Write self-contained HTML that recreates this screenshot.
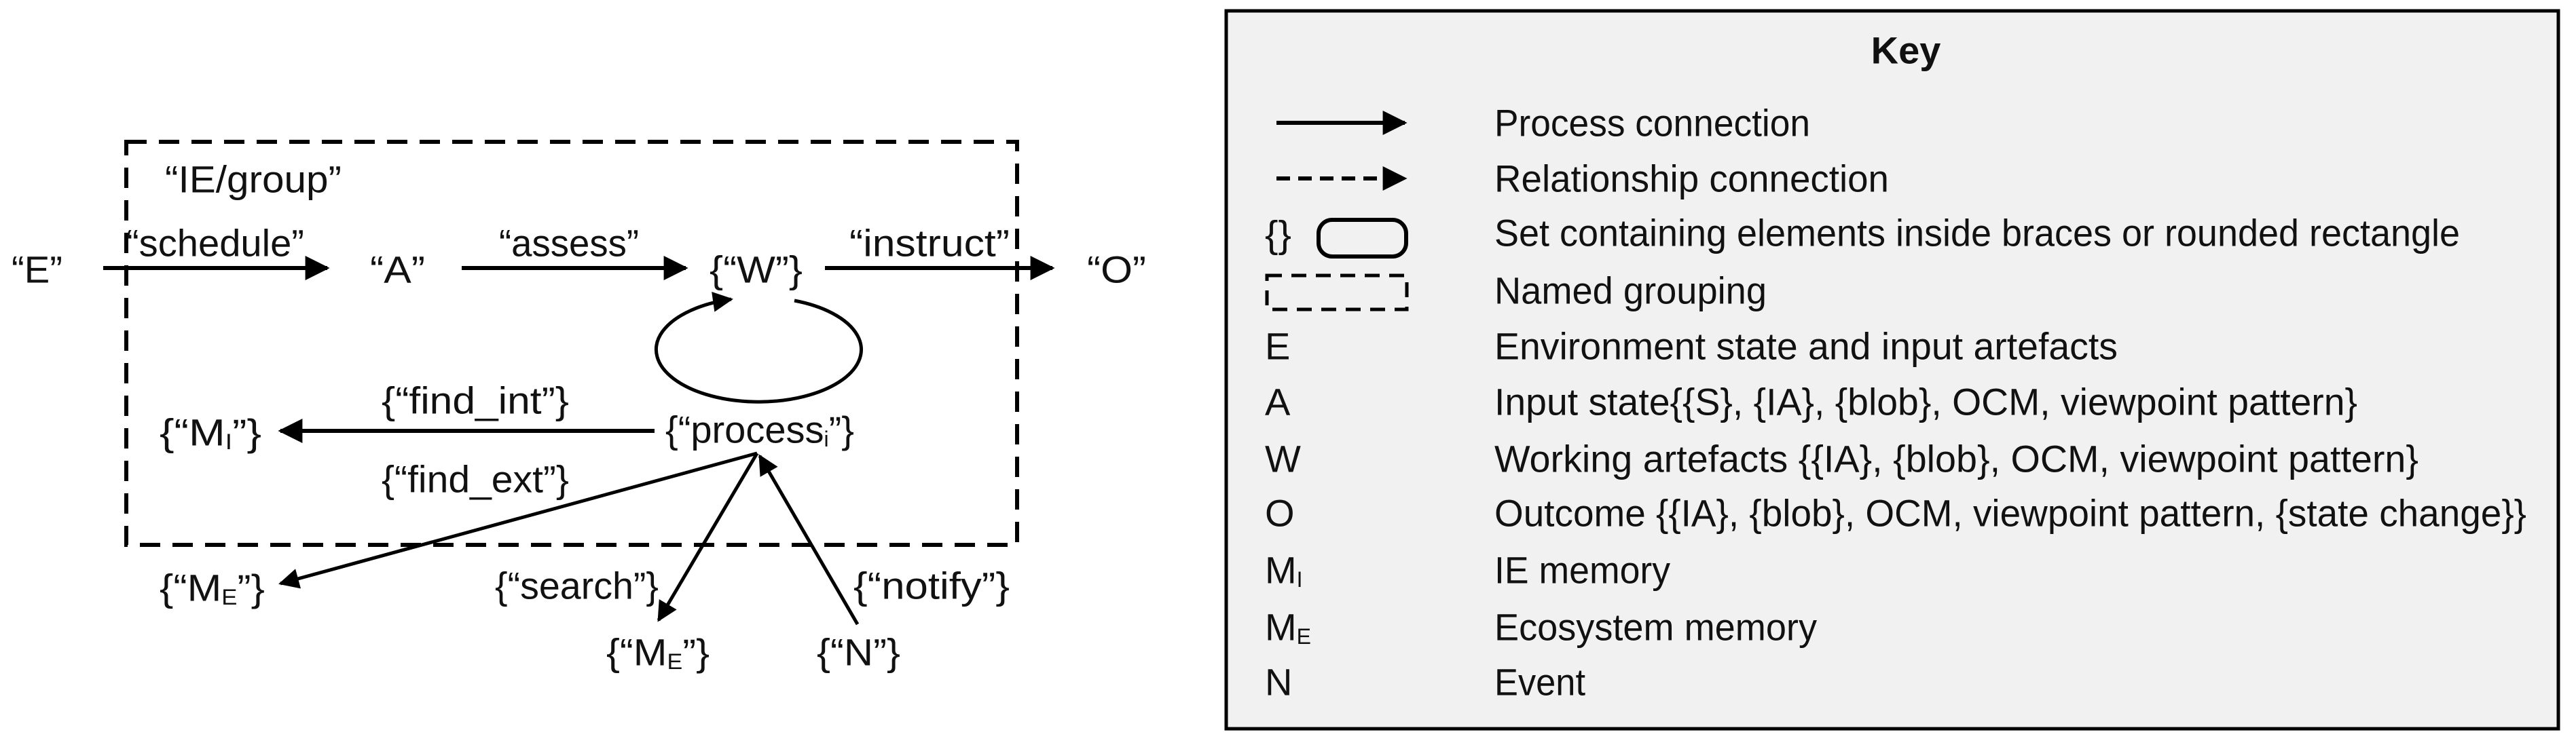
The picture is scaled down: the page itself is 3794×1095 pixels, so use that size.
<!DOCTYPE html>
<html><head><meta charset="utf-8"><style>
html,body{margin:0;padding:0;background:#fff;}
svg{display:block;}
text{font-family:"Liberation Sans",sans-serif;font-size:56px;fill:#111;dominant-baseline:central;}
</style></head><body>
<svg width="3794" height="1095" viewBox="0 0 3794 1095" xmlns="http://www.w3.org/2000/svg">
<defs>
<marker id="ah" viewBox="0 0 10 10" refX="9" refY="5" markerWidth="6.5" markerHeight="6" orient="auto" markerUnits="strokeWidth">
<path d="M0,0 L10,5 L0,10 z" fill="#000"/></marker>
</defs>
<rect x="186" y="209" width="1312" height="594" fill="none" stroke="#000" stroke-width="6" stroke-dasharray="30,18"/>
<text x="243" y="264" textLength="260" lengthAdjust="spacingAndGlyphs">“IE/group”</text>
<text x="17" y="397" textLength="75" lengthAdjust="spacingAndGlyphs">“E”</text>
<line x1="152" y1="395" x2="482" y2="395" stroke="#000" stroke-width="6" marker-end="url(#ah)"/>
<text x="186" y="358" textLength="262" lengthAdjust="spacingAndGlyphs">“schedule”</text>
<text x="545" y="397" textLength="81" lengthAdjust="spacingAndGlyphs">“A”</text>
<line x1="680" y1="395" x2="1010" y2="395" stroke="#000" stroke-width="6" marker-end="url(#ah)"/>
<text x="735" y="358" textLength="206" lengthAdjust="spacingAndGlyphs">“assess”</text>
<text x="1045" y="397" textLength="137" lengthAdjust="spacingAndGlyphs">{“W”}</text>
<line x1="1215" y1="395" x2="1550" y2="395" stroke="#000" stroke-width="6" marker-end="url(#ah)"/>
<text x="1251" y="358" textLength="236" lengthAdjust="spacingAndGlyphs">“instruct”</text>
<text x="1601" y="397" textLength="87" lengthAdjust="spacingAndGlyphs">“O”</text>
<path d="M1170,443 A151,77 0 1 1 1077,441" fill="none" stroke="#000" stroke-width="5" marker-end="url(#ah)"/>
<text x="980" y="633" textLength="278" lengthAdjust="spacingAndGlyphs">{“process<tspan font-size="32" dy="14">i</tspan><tspan dy="-14">”}</tspan></text>
<line x1="964" y1="635" x2="413" y2="635" stroke="#000" stroke-width="6" marker-end="url(#ah)"/>
<text x="562" y="590" textLength="276" lengthAdjust="spacingAndGlyphs">{“find_int”}</text>
<text x="235" y="637" textLength="150" lengthAdjust="spacingAndGlyphs">{“M<tspan font-size="32" dy="14">I</tspan><tspan dy="-14">”}</tspan></text>
<text x="562" y="706" textLength="276" lengthAdjust="spacingAndGlyphs">{“find_ext”}</text>
<line x1="1115" y1="668" x2="413" y2="860" stroke="#000" stroke-width="5" marker-end="url(#ah)"/>
<line x1="1115" y1="668" x2="970" y2="914" stroke="#000" stroke-width="5" marker-end="url(#ah)"/>
<line x1="1263" y1="920" x2="1119" y2="672" stroke="#000" stroke-width="5" marker-end="url(#ah)"/>
<text x="235" y="866" textLength="155" lengthAdjust="spacingAndGlyphs">{“M<tspan font-size="32" dy="14">E</tspan><tspan dy="-14">”}</tspan></text>
<text x="729" y="863" textLength="241" lengthAdjust="spacingAndGlyphs">{“search”}</text>
<text x="1257" y="863" textLength="230" lengthAdjust="spacingAndGlyphs">{“notify”}</text>
<text x="893" y="961" textLength="152" lengthAdjust="spacingAndGlyphs">{“M<tspan font-size="32" dy="14">E</tspan><tspan dy="-14">”}</tspan></text>
<text x="1203" y="961" textLength="123" lengthAdjust="spacingAndGlyphs">{“N”}</text>
<rect x="1806" y="16" width="1962" height="1058" fill="#f1f1f1" stroke="#000" stroke-width="5"/>
<text x="2807" y="74" text-anchor="middle" font-weight="bold" font-size="54">Key</text>
<line x1="1880" y1="181" x2="2069" y2="181" stroke="#000" stroke-width="6" marker-end="url(#ah)"/>
<line x1="1880" y1="263" x2="2069" y2="263" stroke="#000" stroke-width="6" stroke-dasharray="20,12" marker-end="url(#ah)"/>
<text x="1863" y="345" textLength="39" lengthAdjust="spacingAndGlyphs">{}</text>
<rect x="1942" y="324" width="129" height="54" rx="20" fill="none" stroke="#000" stroke-width="6"/>
<rect x="1866" y="406" width="206" height="50" fill="none" stroke="#000" stroke-width="5" stroke-dasharray="22,14"/>
<g>
<text x="2201" y="181" textLength="465" lengthAdjust="spacingAndGlyphs">Process connection</text>
<text x="2201" y="263" textLength="581" lengthAdjust="spacingAndGlyphs">Relationship connection</text>
<text x="2201" y="343" textLength="1422" lengthAdjust="spacingAndGlyphs">Set containing elements inside braces or rounded rectangle</text>
<text x="2201" y="428" textLength="401" lengthAdjust="spacingAndGlyphs">Named grouping</text>
<text x="2201" y="510" textLength="918" lengthAdjust="spacingAndGlyphs">Environment state and input artefacts</text>
<text x="2201" y="592" textLength="1271" lengthAdjust="spacingAndGlyphs">Input state{{S}, {IA}, {blob}, OCM,  viewpoint pattern}</text>
<text x="2201" y="676" textLength="1361" lengthAdjust="spacingAndGlyphs">Working artefacts {{IA}, {blob}, OCM,  viewpoint pattern}</text>
<text x="2201" y="756" textLength="1520" lengthAdjust="spacingAndGlyphs">Outcome {{IA}, {blob}, OCM,  viewpoint pattern, {state change}}</text>
<text x="2201" y="840" textLength="259" lengthAdjust="spacingAndGlyphs">IE memory</text>
<text x="2201" y="924" textLength="475" lengthAdjust="spacingAndGlyphs">Ecosystem memory</text>
<text x="2201" y="1005" textLength="134" lengthAdjust="spacingAndGlyphs">Event</text>
<text x="1863" y="510">E</text>
<text x="1863" y="592">A</text>
<text x="1863" y="676">W</text>
<text x="1863" y="756">O</text>
<text x="1863" y="840">M<tspan font-size="32" dy="14">I</tspan></text>
<text x="1863" y="924">M<tspan font-size="32" dy="14">E</tspan></text>
<text x="1863" y="1005">N</text>
</g>
</svg>
</body></html>
